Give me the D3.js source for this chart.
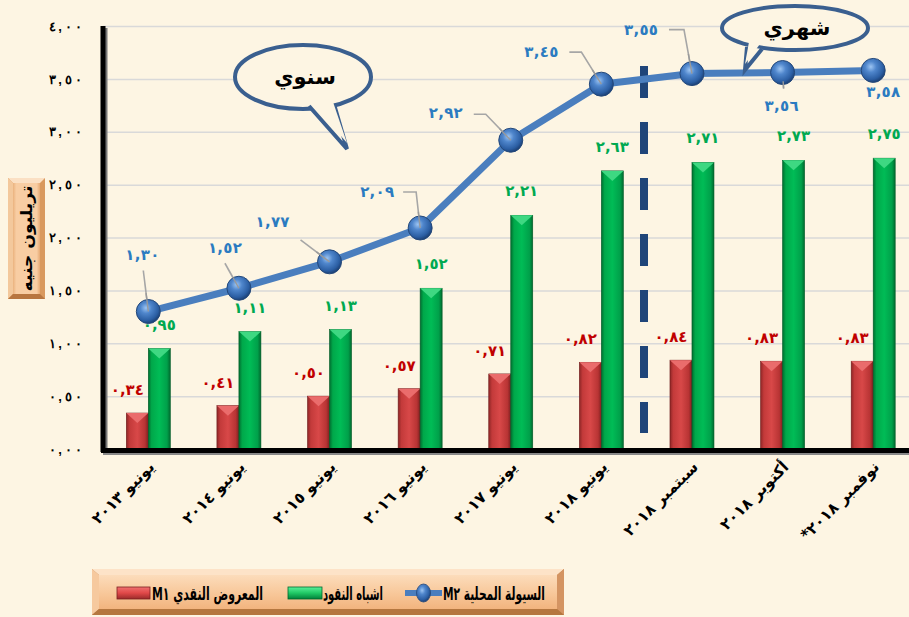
<!DOCTYPE html>
<html><head><meta charset="utf-8">
<script src="https://cdn.jsdelivr.net/npm/d3@7"></script>
<style>
html,body{margin:0;padding:0;background:#fdf5e3;}
svg{display:block;font-family:"DejaVu Sans","Noto Sans",sans-serif;}
</style></head>
<body><svg id="c" width="909" height="617"></svg>
<script>
// ---- data ----
const categories = ["يونيو ٢٠١٣","يونيو ٢٠١٤","يونيو ٢٠١٥","يونيو ٢٠١٦","يونيو ٢٠١٧","يونيو ٢٠١٨","سبتمبر ٢٠١٨","أكتوبر ٢٠١٨","نوفمبر ٢٠١٨*"];
const m1Values = [0.34,0.41,0.50,0.57,0.71,0.82,0.84,0.83,0.83];
const quasiValues = [0.95,1.11,1.13,1.52,2.21,2.63,2.71,2.73,2.75];
const m2Values = [1.30,1.52,1.77,2.09,2.92,3.45,3.55,3.56,3.58];
const yTickValues = [0,0.5,1,1.5,2,2.5,3,3.5,4];
const yTickLabels = ["٠,٠٠","٠,٥٠","١,٠٠","١,٥٠","٢,٠٠","٢,٥٠","٣,٠٠","٣,٥٠","٤,٠٠"];
const seriesNames = ["السيولة المحلية M٢","اشباه النقود","المعروض النقدي M١"];
const yTitle = "تريليون جنيه";
const calloutYearly = "سنوي";
const calloutMonthly = "شهري";

const toAr = v => v.toFixed(2).replace('.', ',').replace(/\d/g, d => '٠١٢٣٤٥٦٧٨٩'[d]);
const rtl = s => '\u202B' + s + '\u202C';

const svg = d3.select('#c');
const defs = svg.append('defs');

const x = d3.scaleBand().domain(categories).range([103, 918.5]).padding(0);
const y = d3.scaleLinear().domain([0, 4]).range([449, 26]);
const cx = c => x(c) + x.bandwidth() / 2;
const barW = 22;

function hGrad(id, stops){
  const g = defs.append('linearGradient').attr('id', id).attr('x1','0').attr('x2','1').attr('y1','0').attr('y2','0');
  stops.forEach(s => g.append('stop').attr('offset', s[0]).attr('stop-color', s[1]));
}
function vGrad(id, stops){
  const g = defs.append('linearGradient').attr('id', id).attr('x1','0').attr('x2','0').attr('y1','0').attr('y2','1');
  stops.forEach(s => g.append('stop').attr('offset', s[0]).attr('stop-color', s[1]));
}
hGrad('gRed', [[0,'#8e2626'],[0.15,'#c33a3a'],[0.5,'#d84848'],[0.85,'#b83434'],[1,'#7e2020']]);
hGrad('gGreen', [[0,'#006e30'],[0.15,'#00a84a'],[0.5,'#00bc56'],[0.85,'#00a04a'],[1,'#006a2e']]);
vGrad('gPeach', [[0,'#fcdcbb'],[0.5,'#f8c99c'],[1,'#f2b47e']]);
hGrad('gPeachH', [[0,'#eab27e'],[0.12,'#f8cda3'],[0.88,'#f8cda3'],[1,'#e6aa74']]);
vGrad('gLegRed', [[0,'#f07070'],[0.5,'#e04848'],[1,'#9a2a2a']]);
vGrad('gLegGreen', [[0,'#5af09a'],[0.5,'#20c865'],[1,'#00803a']]);
const rg = defs.append('radialGradient').attr('id','gBall').attr('cx','40%').attr('cy','35%').attr('r','65%');
[[0,'#9cc4f2'],[0.35,'#4f86cc'],[0.8,'#2b5ea3'],[1,'#1d4277']].forEach(s=>rg.append('stop').attr('offset',s[0]).attr('stop-color',s[1]));

// gridlines
svg.append('g').attr('transform','translate(103,0)')
  .call(d3.axisLeft(y).tickValues(yTickValues.slice(1)).tickSize(-806).tickFormat(''))
  .call(g => g.select('.domain').remove())
  .call(g => g.selectAll('line').attr('stroke','#d9d9d9').attr('stroke-width',1.5));

// y axis labels
svg.append('g').attr('transform','translate(103,0)')
  .call(d3.axisLeft(y).tickValues(yTickValues).tickSize(0).tickPadding(21).tickFormat((d,i)=>yTickLabels[i]))
  .call(g => g.select('.domain').remove())
  .call(g => g.selectAll('text').attr('x',-38).attr('text-anchor','middle').attr('font-size',13).attr('font-weight','bold').attr('fill','#000')
     .attr('textLength',33).attr('lengthAdjust','spacing'));

// bars
const bars = svg.append('g');
categories.forEach((c,i)=>{
  const bx = cx(c);
  const yr = y(m1Values[i]), yg = y(quasiValues[i]);
  bars.append('rect').attr('x',bx-barW).attr('y',yr).attr('width',barW).attr('height',y(0)-yr).attr('fill','url(#gRed)').attr('stroke','#6e1c1c').attr('stroke-width',0.6);
  bars.append('path').attr('d',`M${bx-barW},${yr}L${bx},${yr}L${bx-barW/2},${yr+10}Z`).attr('fill','#ea6c6c');
  bars.append('rect').attr('x',bx).attr('y',yg).attr('width',barW).attr('height',y(0)-yg).attr('fill','url(#gGreen)').attr('stroke','#005a26').attr('stroke-width',0.6);
  bars.append('path').attr('d',`M${bx},${yg}L${bx+barW},${yg}L${bx+barW/2},${yg+10}Z`).attr('fill','#3ed882');
});

// axes lines
svg.append('line').attr('x1',106).attr('x2',106).attr('y1',28).attr('y2',455).attr('stroke','#777').attr('stroke-width',3);
svg.append('line').attr('x1',103).attr('x2',909).attr('y1',454).attr('y2',454).attr('stroke','#888').attr('stroke-width',2);
svg.append('line').attr('x1',103).attr('x2',103).attr('y1',26).attr('y2',452).attr('stroke','#000').attr('stroke-width',5);
svg.append('line').attr('x1',101).attr('x2',909).attr('y1',450.5).attr('y2',450.5).attr('stroke','#000').attr('stroke-width',5);

// dashed separator
svg.append('line').attr('x1',644).attr('x2',644).attr('y1',66).attr('y2',433)
  .attr('stroke','#1f4579').attr('stroke-width',8).attr('stroke-dasharray','32,24');

// M2 line
const line = d3.line().x((d,i)=>cx(categories[i])).y(d=>y(d));
svg.append('path').datum(m2Values).attr('d',line).attr('fill','none')
  .attr('stroke','#4a7ebe').attr('stroke-width',7).attr('stroke-linejoin','round');

// M2 label layout (offsets relative to each point)
const m2LabelLayout = [
  {lx:-6, ly:-52, lead:[[-5,-41],[0,0]]},
  {lx:-14, ly:-35, lead:[[-14,-25],[0,0]]},
  {lx:-57, ly:-35, lead:[[-29,-22],[0,0]]},
  {lx:-43, ly:-31, lead:[[-17,-36],[-4,-36],[0,0]]},
  {lx:-65, ly:-22, lead:[[-37,-26],[-25,-26],[0,0]]},
  {lx:-60, ly:-27, lead:[[-32,-32],[-20,-32],[0,0]]},
  {lx:-51, ly:-39, lead:[[-23,-44],[-8,-44],[0,0]]},
  {lx:-1, ly:38, lead:[[0,0],[1,16]]},
  {lx:10, ly:27, lead:null}
];
const leaders = svg.append('g');
m2Values.forEach((v,i)=>{
  const px = cx(categories[i]), py = y(v), L = m2LabelLayout[i];
  if (L.lead) leaders.append('polyline').attr('points', L.lead.map(p=>[px+p[0],py+p[1]].join(',')).join(' '))
    .attr('fill','none').attr('stroke','#a6a6a6').attr('stroke-width',1.6);
});
const ballG = svg.append('g');
m2Values.forEach((v,i)=>{
  ballG.append('circle').attr('cx',cx(categories[i])).attr('cy',y(v)).attr('r',12).attr('fill','url(#gBall)').attr('stroke','#24487a').attr('stroke-width',1);
});
m2Values.forEach((v,i)=>{
  const px = cx(categories[i]), py = y(v), L = m2LabelLayout[i];
  if (!L.lead) return;
  const n = L.lead.length, a = L.lead[n-2], b = L.lead[n-1];
  svg.append('line').attr('x1',px+a[0]+(b[0]-a[0])*0.55).attr('y1',py+a[1]+(b[1]-a[1])*0.55)
    .attr('x2',px+b[0]).attr('y2',py+b[1]).attr('stroke','#9a9a9a').attr('stroke-width',1.4);
});
const m2Lab = svg.append('g');
m2Values.forEach((v,i)=>{
  const px = cx(categories[i]), py = y(v), L = m2LabelLayout[i];
  m2Lab.append('text').attr('x',px+L.lx).attr('y',py+L.ly).attr('text-anchor','middle')
    .attr('font-size',15).attr('font-weight','bold').attr('fill','#2b7bc1')
    .attr('textLength',34).attr('lengthAdjust','spacing').text(toAr(v));
});

// bar labels
const vl = svg.append('g').attr('font-size',15).attr('font-weight','bold').attr('text-anchor','middle');
categories.forEach((c,i)=>{
  const bx = cx(c);
  vl.append('text').attr('x',bx+barW/2).attr('y',y(quasiValues[i])-19).attr('fill','#00a950')
    .attr('textLength',33).attr('lengthAdjust','spacing').text(toAr(quasiValues[i]));
  vl.append('text').attr('x',bx-barW/2-10).attr('y',y(m1Values[i])-18).attr('fill','#c00000')
    .attr('textLength',33).attr('lengthAdjust','spacing').text(toAr(m1Values[i]));
});

// x labels
svg.append('g').selectAll('text').data(categories).join('text')
  .attr('transform', c => `translate(${cx(c)+7},${468}) rotate(-45)`)
  .attr('text-anchor','end').attr('font-size',15.5).attr('font-weight','bold').attr('fill','#000')
  .text(c => rtl(c));

// callouts
function callout(ecx, ecy, rx, ry, tail, label, fs){
  const g = svg.append('g');
  const a1 = tail[0], tip = tail[1], a2 = tail[2];
  g.append('ellipse').attr('cx',ecx).attr('cy',ecy).attr('rx',rx).attr('ry',ry).attr('fill','#fdf5e3').attr('stroke','#3a5f8f').attr('stroke-width',4);
  g.append('path').attr('d',`M${a1[0]},${a1[1]}L${tip[0]},${tip[1]}L${a2[0]},${a2[1]}`).attr('fill','#fdf5e3').attr('stroke','#3a5f8f').attr('stroke-width',4).attr('stroke-linejoin','miter');
  g.append('path').attr('d',`M${a1[0]+2},${a1[1]-5}L${tip[0]},${tip[1]-6}L${a2[0]-2},${a2[1]-5}Z`).attr('fill','#fdf5e3');
  g.append('text').attr('x',ecx+2).attr('y',ecy+fs*0.35).attr('text-anchor','middle').attr('font-size',fs).attr('font-weight','bold').attr('fill','#000').text(rtl(label));
}
callout(303, 77, 68, 32, [[309,106],[347,149],[334,104]], calloutYearly, 21);
callout(795, 28, 73, 22, [[747,47],[745,70],[762,49]], calloutMonthly, 21);

// y title box
const yt = svg.append('g');
yt.append('rect').attr('x',8).attr('y',178).attr('width',37).attr('height',121).attr('fill','#d9995e');
yt.append('path').attr('d','M8,178L45,178L40,183L13,183Z').attr('fill','#fbe0c4');
yt.append('path').attr('d','M8,178L13,183L13,294L8,299Z').attr('fill','#f3c89c');
yt.append('path').attr('d','M8,299L13,294L40,294L45,299Z').attr('fill','#b87640');
yt.append('rect').attr('x',13).attr('y',183).attr('width',27).attr('height',111).attr('fill','url(#gPeachH)');
yt.append('text').attr('transform','translate(32,238.5) rotate(-90)').attr('text-anchor','middle')
  .attr('font-size',16).attr('font-weight','bold').attr('fill','#000')
  .attr('textLength',106).attr('lengthAdjust','spacingAndGlyphs').text(rtl(yTitle));

// legend
const lg = svg.append('g');
lg.append('rect').attr('x',92).attr('y',569).attr('width',472).attr('height',46).attr('fill','#c98a58');
lg.append('path').attr('d','M92,569L564,569L557,575L99,575Z').attr('fill','#fde3c8');
lg.append('path').attr('d','M92,569L99,575L99,609L92,615Z').attr('fill','#f6c99e');
lg.append('path').attr('d','M564,569L557,575L557,609L564,615Z').attr('fill','#d49462');
lg.append('path').attr('d','M92,615L99,609L557,609L564,615Z').attr('fill','#b5773f');
lg.append('rect').attr('x',99).attr('y',575).attr('width',458).attr('height',34).attr('fill','url(#gPeach)');
lg.append('line').attr('x1',405).attr('x2',442).attr('y1',593).attr('y2',593).attr('stroke','#4a7ebe').attr('stroke-width',6);
lg.append('ellipse').attr('cx',423.5).attr('cy',593).attr('rx',7).attr('ry',9).attr('fill','url(#gBall)').attr('stroke','#24487a').attr('stroke-width',0.8);
lg.append('rect').attr('x',288).attr('y',587).attr('width',34).attr('height',12).attr('fill','url(#gLegGreen)').attr('stroke','#00662c').attr('stroke-width',0.8);
lg.append('rect').attr('x',117).attr('y',587).attr('width',33).attr('height',12).attr('fill','url(#gLegRed)').attr('stroke','#7a2020').attr('stroke-width',0.8);
const legText = [{x:494, w:102, t:seriesNames[0]},{x:353, w:60, t:seriesNames[1]},{x:207.5, w:111, t:seriesNames[2]}];
legText.forEach(d=>{
  lg.append('text').attr('x',d.x).attr('y',600).attr('text-anchor','middle').attr('font-size',18).attr('font-weight','bold')
    .attr('textLength',d.w).attr('lengthAdjust','spacingAndGlyphs').text(rtl(d.t));
});
</script></body></html>
